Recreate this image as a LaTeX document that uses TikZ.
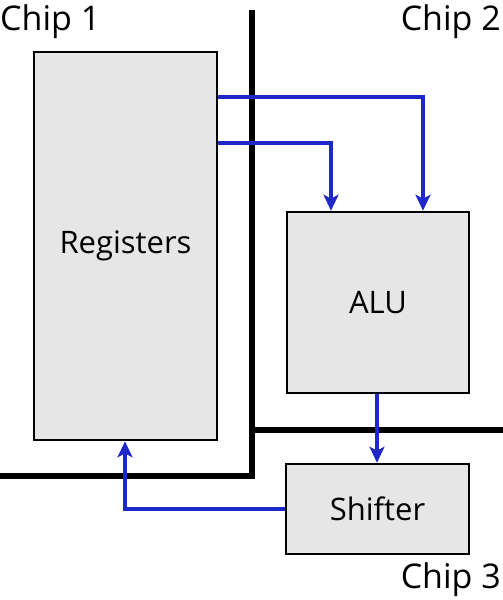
\documentclass[tikz,border=0pt]{standalone}
\usepackage{fontspec}
\setmainfont{Open Sans}
\usetikzlibrary{arrows.meta}
\definecolor{wireblue}{RGB}{30,40,200}
\definecolor{boxgray}{RGB}{230,230,230}
\begin{document}
\begin{tikzpicture}[x=1pt,y=-1pt,
  unit/.style={draw=black,line width=2.6pt,fill=boxgray,inner sep=0pt,font=\fontsize{31}{36}\selectfont},
  wire/.style={draw=wireblue,line width=3.2pt,-{Stealth[length=16pt,width=15pt,inset=4pt]}},
  border/.style={draw=black,line width=6pt},
  chiplabel/.style={font=\fontsize{34}{40}\selectfont,inner sep=0pt}]
\useasboundingbox (0,0) rectangle (503,600);
% chip borders
\coordinate (btop) at (252,10);
\coordinate (bcorner) at (252,476);
\coordinate (bleft) at (0,476);
\coordinate (bmid) at (252,430);
\coordinate (bright) at (503,430);
\draw[border] (btop) -- (bcorner) -- (bleft);
\draw[border] (bmid) -- (bright);
% units
\node[unit,minimum width=183pt,minimum height=388pt] (reg) at (125.5,246) {Registers};
\node[unit,minimum width=182pt,minimum height=181pt] (alu) at (378,302.5) {ALU};
\node[unit,minimum width=183pt,minimum height=90pt] (shf) at (377.5,509) {Shifter};
% labels
\node[chiplabel,anchor=west] (c1) at (0,22) {Chip 1};
\node[chiplabel,anchor=east] (c2) at (501,22) {Chip 2};
\node[chiplabel,anchor=east] (c3) at (501,580) {Chip 3};
% wires
\coordinate (r1) at (reg.east |- 0,97);
\coordinate (r2) at (reg.east |- 0,143);
\coordinate (a1) at (423,0 |- alu.north);
\coordinate (a2) at (331,0 |- alu.north);
\draw[wire] (r1) -| (a1);
\draw[wire] (r2) -| (a2);
\draw[wire] (alu.south -| 377,0) -- (shf.north -| 377,0);
\draw[wire] (shf.west) -| (reg.south -| 125,0);
\end{tikzpicture}
\end{document}
